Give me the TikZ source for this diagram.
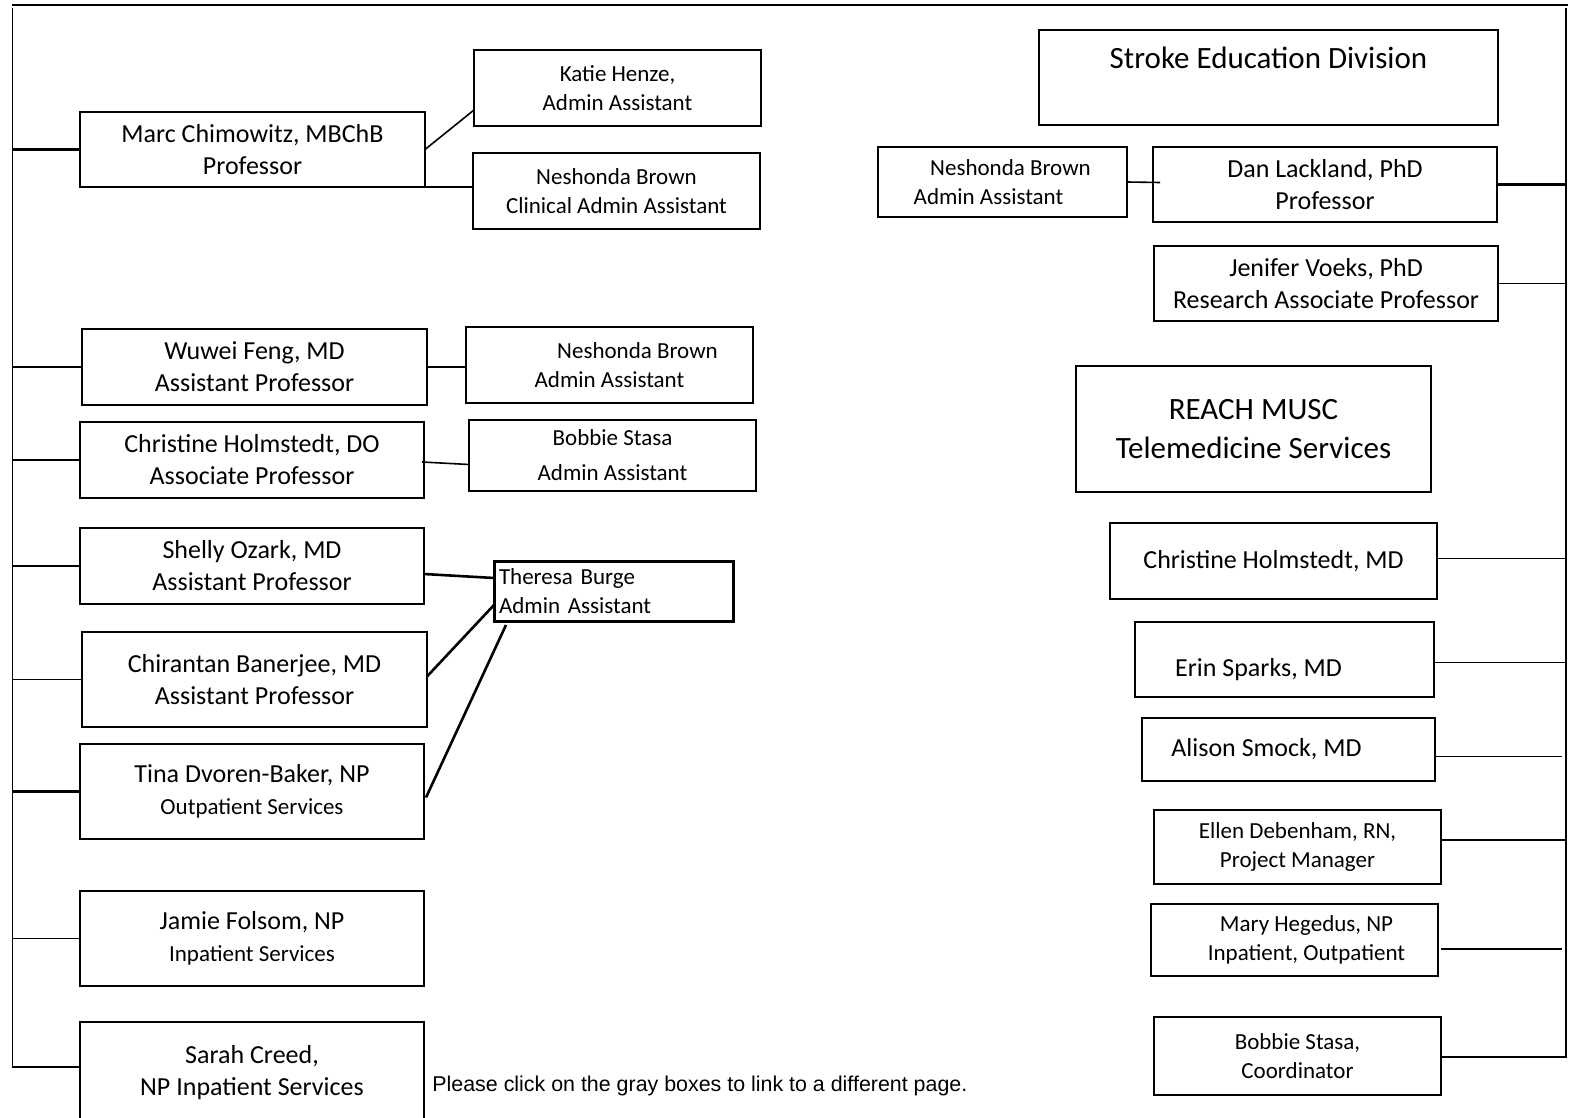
\documentclass[tikz,border=0pt]{standalone}
\usepackage{fontspec}
\setmainfont{Carlito}
\newfontfamily\arialf{Liberation Sans}
\usetikzlibrary{calc}
\newcommand\orgbox[7][]{%
\node[box,minimum width={(#5-#3)*0.5pt},minimum height={(#6-#4)*0.5pt},#1] (#2) at ({(#3+#5)/2},{(#4+#6)/2}) {#7};}
\tikzset{
  box/.style={draw, line width=1pt, inner sep=0pt, outer sep=0pt, align=center, font=\fontsize{13}{16}\selectfont},
  sm/.style={font=\fontsize{11.5}{14.5}\selectfont},
  big/.style={font=\fontsize{15.5}{19.5}\selectfont},
  conn/.style={line width=0.8pt},
  thickconn/.style={line width=1.3pt},
  thinconn/.style={line width=0.5pt}
}
\newcommand\smtext[1]{{\fontsize{11.5}{14.5}\selectfont #1}}
\begin{document}
\begin{tikzpicture}[x=0.5pt,y=-0.5pt]
\clip (0,0) rectangle (1574,1118);
\fill[white] (0,0) rectangle (1574,1118);
% trunks
\coordinate (tl) at (12,5);
\coordinate (tr) at (1568,5);
\coordinate (lt) at (12,8);
\coordinate (lb) at (12,1068);
\coordinate (rt) at (1566,8);
\coordinate (rb) at (1566,1058);
\draw[line width=1pt] (tl) -- (tr);
\draw[thinconn] (lt) -- (lb);
\draw[conn] (rt) -- (rb);
% left column
\orgbox{marc}{80}{112}{425}{187}{Marc Chimowitz, MBChB\\Professor}
\orgbox[sm]{katie}{474}{50}{761}{126}{Katie Henze,\\Admin Assistant}
\orgbox[sm]{nbc}{473}{153}{760}{229}{Neshonda Brown\\Clinical Admin Assistant}
\orgbox{wuwei}{82}{329}{427}{405}{Wuwei Feng, MD\\Assistant Professor}
\orgbox[sm]{nbl}{466}{327}{753}{403}{\hspace*{28pt}Neshonda Brown\\Admin Assistant}
\orgbox{chdo}{80}{422}{424}{498}{Christine Holmstedt, DO\\Associate Professor}
\orgbox[sm]{bsa}{469}{420}{756}{491}{Bobbie Stasa\\[3pt]Admin Assistant}
\orgbox{shelly}{80}{528}{424}{604}{Shelly Ozark, MD\\Assistant Professor}
\orgbox[sm,line width=1.5pt,align=left,inner xsep=2.5pt,text width=114.5pt]{theresa}{494}{561}{733}{621}{Theresa Burge\\Admin Assistant}
\orgbox{chir}{82}{632}{427}{727}{Chirantan Banerjee, MD\\Assistant Professor}
\orgbox{tina}{80}{744}{424}{839}{Tina Dvoren-Baker, NP\\\smtext{Outpatient Services}}
\orgbox{jamie}{80}{891}{424}{986}{Jamie Folsom, NP\\\smtext{Inpatient Services}}
\orgbox{sarah}{80}{1022}{424}{1124}{Sarah Creed,\\NP Inpatient Services}
\node[inner sep=0pt, anchor=west, font=\arialf\fontsize{10.7}{12}\selectfont] (note) at (432,1086) {Please click on the gray boxes to link to a different page.};
% right column
\orgbox[big]{sed}{1039}{30}{1498}{125}{Stroke Education Division\\\mbox{}}
\orgbox[sm,line width=1.3pt]{nbr}{878}{147}{1127}{217}{\hspace*{8pt}Neshonda Brown\\Admin Assistant\hspace*{14pt}}
\orgbox{dan}{1153}{147}{1497}{222}{Dan Lackland, PhD\\Professor}
\orgbox{jen}{1154}{246}{1498}{321}{Jenifer Voeks, PhD\\Research Associate Professor}
\orgbox[big]{reach}{1076}{366}{1431}{492}{REACH MUSC\\Telemedicine Services}
\orgbox{chmd}{1110}{523}{1437}{599}{Christine Holmstedt, MD}
\orgbox[text height=19pt]{erin}{1135}{622}{1434}{697}{Erin Sparks, MD\hspace*{26pt}}
\orgbox{alison}{1142}{718}{1435}{781}{Alison Smock, MD\hspace*{22pt}}
\orgbox[sm]{ellen}{1154}{810}{1441}{884}{Ellen Debenham, RN,\\Project Manager}
\orgbox[sm]{mary}{1151}{904}{1438}{976}{\hspace*{12pt}Mary Hegedus, NP\\\hspace*{12pt}Inpatient, Outpatient}
\orgbox[sm]{bsc}{1154}{1017}{1441}{1095}{Bobbie Stasa,\\Coordinator}
% helper coordinates
\coordinate (sarahc) at ($(sarah.north west)+(0,45)$);
\coordinate (chmdc) at ($(chmd.east)+(0,-3)$);
\coordinate (erinc) at ($(erin.east)+(0,3)$);
\coordinate (ellenc) at ($(ellen.east)+(0,-7)$);
\coordinate (bscc) at ($(bsc.east)+(0,1)$);
\coordinate (alisonc) at ($(alison.east)+(0,7)$);
\coordinate (maryc) at ($(mary.east)+(3,9)$);
% left branches
\draw[thickconn] (marc.west) -- (marc.west -| lt);
\draw[conn] (wuwei.west) -- (wuwei.west -| lt);
\draw[conn] (chdo.west) -- (chdo.west -| lt);
\draw[conn] (shelly.west) -- (shelly.west -| lt);
\draw[conn] (chir.west) -- (chir.west -| lt);
\draw[thickconn] (tina.west) -- (tina.west -| lt);
\draw[conn] (jamie.west) -- (jamie.west -| lt);
\draw[thickconn] (sarahc) -- (sarahc -| lt);
% assistants
\draw[conn] (marc.east) -- ($(katie.south west)+(0,-16)$);
\draw[thickconn] (marc.south east) -- (marc.south east -| nbc.west);
\draw[thickconn] (wuwei.east) -- (wuwei.east -| nbl.west);
\draw[conn] ($(chdo.east)+(-2,2)$) -- ($(bsa.west)+(0,9)$);
\draw[thickconn] ($(shelly.east)+(0,8)$) -- ($(theresa.north west)+(0,17)$);
\draw[thickconn] ($(chir.east)+(0,-3)$) -- ($(theresa.south west)+(0,-16)$);
\draw[thickconn] ($(tina.east)+(2,6)$) -- ($(theresa.south west)+(12,4)$);
\draw[conn] (nbr.east) -- ($(dan.west)+(7,-2)$);
% right branches
\draw[thickconn] (dan.east) -- (dan.east -| rt);
\draw[conn] (jen.east) -- (jen.east -| rt);
\draw[thinconn] (chmdc) -- (chmdc -| rt);
\draw[thinconn] (erinc) -- (erinc -| rt);
\draw[conn] (alisonc) -- ($(alisonc)+(127,0)$);
\draw[conn] (ellenc) -- (ellenc -| rt);
\draw[conn] (maryc) -- ($(maryc)+(121,0)$);
\draw[conn] (bscc) -- (bscc -| rt);
\end{tikzpicture}
\end{document}
